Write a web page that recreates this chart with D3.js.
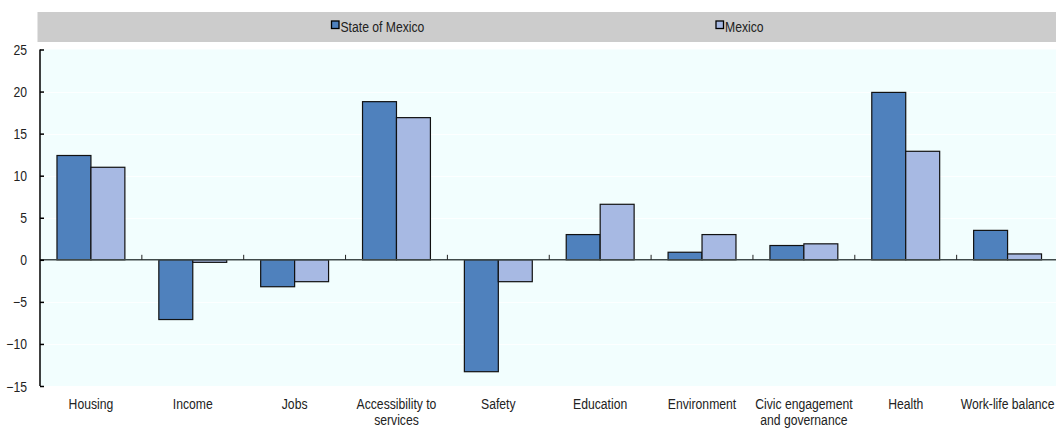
<!DOCTYPE html>
<html>
<head>
<meta charset="utf-8">
<script src="https://cdn.jsdelivr.net/npm/d3@7"></script>
<style>
  html, body { margin: 0; padding: 0; background: #ffffff; }
  svg { display: block; }
  text { font-family: "Liberation Sans", Arial, sans-serif; fill: #222; }
</style>
</head>
<body>
<svg id="chart" width="1056" height="428"></svg>
<script>
// Well-being dimensions
const categories = [
  "Housing", "Income", "Jobs", "Accessibility to services", "Safety",
  "Education", "Environment", "Civic engagement and governance", "Health", "Work-life balance"
];
// Label lines under each dimension
const categoryLines = [
  ["Housing"], ["Income"], ["Jobs"], ["Accessibility to", "services"], ["Safety"],
  ["Education"], ["Environment"], ["Civic engagement", "and governance"], ["Health"], ["Work-life balance"]
];
const seriesNames = ["State of Mexico", "Mexico"];
const stateValues = [12.4, -7.1, -3.2, 18.8, -13.3, 3.0, 0.9, 1.7, 19.9, 3.5];
const mexicoValues = [11.0, -0.3, -2.6, 16.9, -2.6, 6.6, 3.0, 1.9, 12.9, 0.7];
const yTicks = [-15, -10, -5, 0, 5, 10, 15, 20, 25];

const colors = ["#4f81bd", "#a7b9e3"];
const FONT_SIZE = 14;
const NARROW = 0.87; // horizontal squeeze for a condensed look
const svg = d3.select("#chart");

const plot = { left: 40, right: 1058.5, top: 49.5, bottom: 386 };

const x = d3.scaleBand().domain(categories).range([plot.left, plot.right]).paddingInner(1 / 3).paddingOuter(1 / 6);
const xStep = x.step();
const xSub = d3.scaleBand().domain(seriesNames).range([0, x.bandwidth()]);
const y = d3.scaleLinear().domain([-15, 25]).range([plot.bottom, plot.top]);

// Legend band
svg.append("rect")
  .attr("x", 37.5).attr("y", 12).attr("width", 1056 - 37.5).attr("height", 30)
  .attr("fill", "#cccccc");

const legendPos = [331, 715.5];
seriesNames.forEach((name, i) => {
  const g = svg.append("g").attr("transform", `translate(${legendPos[i]},0)`);
  g.append("rect").attr("x", 0.5).attr("y", 21).attr("width", 7.5).attr("height", 7.5)
    .attr("fill", colors[i]).attr("stroke", "#000").attr("stroke-width", 1.3);
  g.append("text")
    .attr("transform", `translate(9.5,31.5) scale(${NARROW},1)`)
    .attr("font-size", FONT_SIZE).text(name);
});

// Plot background
svg.append("rect")
  .attr("x", plot.left).attr("y", plot.top)
  .attr("width", 1056 - plot.left).attr("height", plot.bottom - plot.top)
  .attr("fill", "#f2fefe");

// Horizontal grid
svg.append("g").selectAll("line")
  .data(yTicks.filter(t => t !== 0 && t !== -15 && t !== 25))
  .join("line")
  .attr("x1", plot.left).attr("x2", 1056)
  .attr("y1", d => Math.round(y(d)) + 0.5).attr("y2", d => Math.round(y(d)) + 0.5)
  .attr("stroke", "#fdffff").attr("stroke-width", 1);

// Bars
const groups = svg.append("g").selectAll("g")
  .data(categories)
  .join("g")
  .attr("transform", d => `translate(${x(d)},0)`);

groups.selectAll("rect")
  .data((d, i) => [stateValues[i], mexicoValues[i]].map((v, s) => ({ v, s })))
  .join("rect")
  .attr("x", d => xSub(seriesNames[d.s]))
  .attr("width", xSub.bandwidth())
  .attr("y", d => y(Math.max(0, d.v)))
  .attr("height", d => Math.abs(y(d.v) - y(0)))
  .attr("fill", d => colors[d.s])
  .attr("stroke", "#111")
  .attr("stroke-width", 1.2);

// Zero line with category separators
const zero = svg.append("g").attr("transform", `translate(0,${y(0)})`);
zero.append("line").attr("x1", plot.left).attr("x2", 1056).attr("y1", 0).attr("y2", 0)
  .attr("stroke", "#404a4a").attr("stroke-width", 1.5);
zero.selectAll("line.sep")
  .data(categories.slice(1))
  .join("line").attr("class", "sep")
  .attr("x1", d => x(d) - xStep * x.paddingInner() / 2)
  .attr("x2", d => x(d) - xStep * x.paddingInner() / 2)
  .attr("y1", 0).attr("y2", -5)
  .attr("stroke", "#222").attr("stroke-width", 1);

// Category labels
const labels = svg.append("g");
categories.forEach((c, i) => {
  const t = labels.append("text")
    .attr("transform", `translate(${x(c) + x.bandwidth() / 2},409) scale(${NARROW},1)`)
    .attr("text-anchor", "middle")
    .attr("font-size", FONT_SIZE);
  categoryLines[i].forEach((line, k) => {
    t.append("tspan").attr("x", 0).attr("dy", k === 0 ? 0 : 16).text(line);
  });
});

// Y axis
const yAxis = d3.axisLeft(y).tickValues(yTicks).tickSize(-4).tickPadding(0).tickFormat(d3.format("d"));
const yg = svg.append("g").attr("transform", `translate(${plot.left},0)`).call(yAxis);
yg.select(".domain").attr("stroke", "#000").attr("stroke-width", 1.5)
  .attr("d", `M0,${plot.top}V${plot.bottom}`);
yg.selectAll(".tick line").attr("stroke", "#000").attr("stroke-width", 1.5);
yg.selectAll(".tick text")
  .attr("x", null).attr("dy", null)
  .attr("transform", `translate(-13,5) scale(${NARROW},1)`)
  .attr("font-size", FONT_SIZE).attr("fill", "#222")
  .attr("font-family", "\"Liberation Sans\", Arial, sans-serif");
</script>
</body>
</html>
